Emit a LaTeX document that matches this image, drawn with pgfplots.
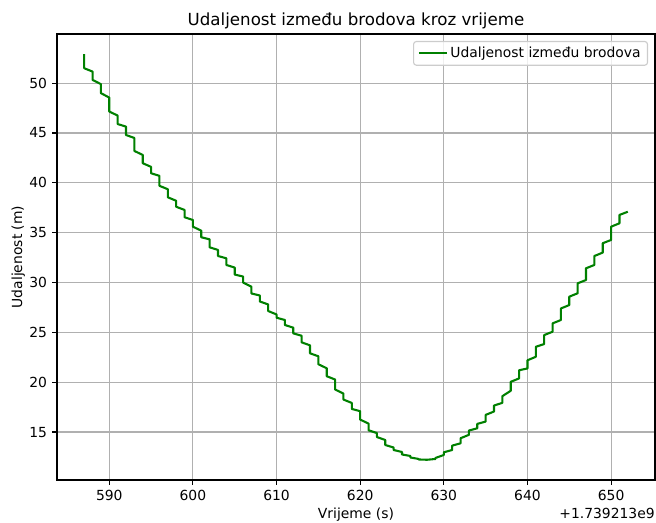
\documentclass[border=0pt]{standalone}
\usepackage{fontspec}
\setmainfont{DejaVu Sans}
\usepackage{pgfplots}
\pgfplotsset{compat=1.18}
\definecolor{mplgreen}{HTML}{008000}
\definecolor{gridgray}{HTML}{B0B0B0}
\definecolor{legendgray}{HTML}{CCCCCC}
\begin{document}
\begin{tikzpicture}
\useasboundingbox (-41.04pt,-30.24pt) rectangle (431.28pt,345.6pt);
\begin{axis}[
  name=ax,
  at={(0,0)}, anchor=south west,
  scale only axis, width=430.56pt, height=321.12pt,
  xmin=583.75, xmax=655.25, ymin=10.19, ymax=54.93,
  xtick={590,600,...,650}, ytick={15,20,...,50},
  /pgf/number format/assume math mode=true,
  font=\fontsize{10}{12}\selectfont,
  ticklabel style={font=\fontsize{10}{12}\selectfont},
  grid=major, grid style={color=gridgray, line width=0.8pt},
  axis line style={line width=0.8pt},
  tick style={line width=0.8pt, color=black},
  tick align=outside, major tick length=3.5pt, tick pos=left,
  xticklabel style={inner sep=0pt, yshift=-3.5pt},
  yticklabel style={inner sep=0pt, xshift=-3.5pt},
  title={Udaljenost između brodova kroz vrijeme},
  every axis title/.style={at={(axis description cs:0.5,1)}, anchor=base, yshift=6pt, font=\fontsize{12}{14}\selectfont, inner sep=0pt},
  xlabel={Vrijeme (s)},
  every axis x label/.style={at={(axis description cs:0.5,0)}, anchor=base, yshift=-27.4pt, inner sep=0pt},
  ylabel={Udaljenost (m)},
  every axis y label/.style={at={(axis description cs:-0.0585,0.5)}, rotate=90, anchor=base, inner sep=0pt},
  legend style={at={(rel axis cs:1,1)}, anchor=north east, xshift=-5pt, yshift=-5pt,
    draw=legendgray, line width=0.8pt, rounded corners=2pt, fill=white, fill opacity=0.8, text opacity=1,
    font=\fontsize{10}{12}\selectfont, inner xsep=3pt, inner ysep=2pt},
  legend cell align=left,
  legend image code/.code={\draw[#1, line width=1.5pt] (0pt,0pt) -- (20pt,0pt);},
]
\addplot[color=mplgreen, line width=1.5pt, line join=round] coordinates {
(587,52.9)(587,51.5)(588,51.16)(588,50.33)(589,49.9)(589,49.0)(590,48.55)(590,47.15)(591,46.75)(591,45.9)(592,45.64)(592,44.8)(593,44.5)(593,43.2)(594,42.8)(594,41.97)(595,41.6)(595,40.96)(596,40.7)(596,39.7)(597,39.36)(597,38.55)(598,38.2)(598,37.6)(599,37.28)(599,36.55)(600,36.27)(600,35.6)(601,35.2)(601,34.54)(602,34.33)(602,33.53)(603,33.27)(603,32.66)(604,32.43)(604,31.76)(605,31.5)(605,30.8)(606,30.6)(606,30.0)(607,29.58)(607,28.9)(608,28.7)(608,28.1)(609,27.8)(609,27.14)(610,26.8)(610,26.47)(611,26.24)(611,25.74)(612,25.47)(612,24.9)(613,24.66)(613,24.0)(614,23.7)(614,22.9)(615,22.6)(615,21.8)(616,21.4)(616,20.6)(617,20.27)(617,19.27)(618,18.86)(618,18.26)(619,17.92)(619,17.32)(620,17.09)(620,16.25)(621,15.85)(621,15.18)(622,14.9)(622,14.5)(623,14.2)(623,13.7)(624,13.45)(624,13.2)(625,13.0)(625,12.75)(626,12.6)(626,12.45)(627,12.3)(627,12.25)(628,12.22)(628,12.22)(629,12.3)(629,12.4)(630,12.7)(630,12.97)(631,13.2)(631,13.64)(632,13.87)(632,14.38)(633,14.72)(633,15.15)(634,15.38)(634,15.82)(635,16.05)(635,16.72)(636,17.06)(636,17.66)(637,17.93)(637,18.6)(638,19.14)(638,20.04)(639,20.38)(639,21.2)(640,21.38)(640,22.2)(641,22.55)(641,23.55)(642,23.83)(642,24.73)(643,25.06)(643,25.9)(644,26.24)(644,27.4)(645,27.74)(645,28.58)(646,28.92)(646,29.92)(647,30.25)(647,31.43)(648,31.76)(648,32.66)(649,33.0)(649,33.94)(650,34.27)(650,35.6)(651,35.94)(651,36.78)(652,37.1)
};
\addlegendentry{Udaljenost između brodova}
\end{axis}
\node[anchor=base east, inner sep=0pt, font=\fontsize{10}{12}\selectfont] at ([yshift=-27.4pt]ax.south east) {+1.739213e9};
\end{tikzpicture}
\end{document}
